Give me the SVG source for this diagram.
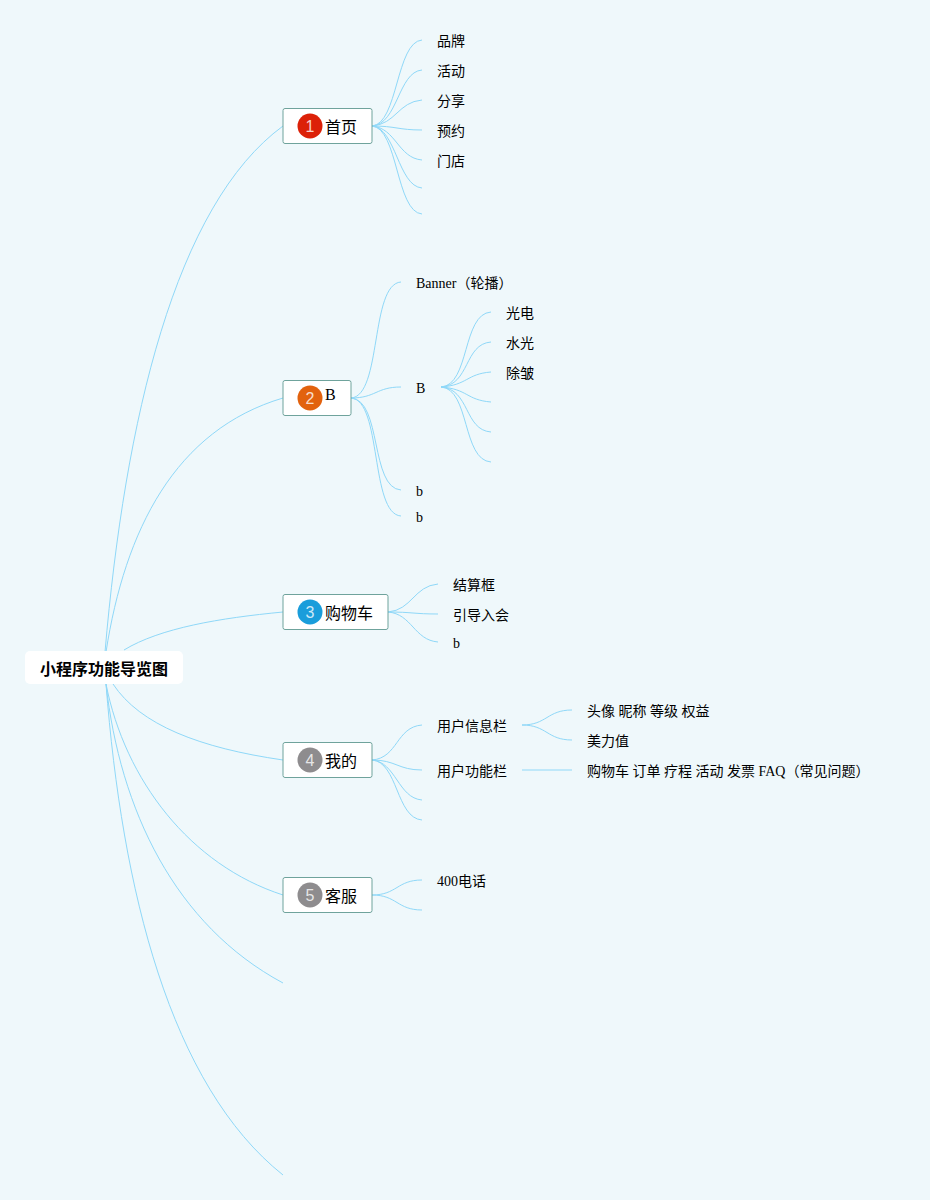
<svg xmlns="http://www.w3.org/2000/svg" width="930" height="1200" viewBox="0 0 930 1200">
<style>
.c{fill:none;stroke:#8fd8f8;stroke-width:1}
.t{font-family:"Liberation Serif","Noto Sans CJK SC",sans-serif;font-size:14px;fill:#000}
.m{font-family:"Liberation Serif","Noto Sans CJK SC",sans-serif;font-size:16px;fill:#000}
.r{font-family:"Liberation Sans","Noto Sans CJK SC",sans-serif;font-size:16px;font-weight:700;fill:#000}
.b{fill:#fff;stroke:#6fa39c;stroke-width:1}
.n{font-family:"Liberation Sans",sans-serif;font-size:16px;fill:#fff;fill-opacity:.8;text-anchor:middle}
</style>
<rect width="930" height="1200" fill="#eff8fb"/>
<g id="connectors">
<path class="c" d="M105 652C125 420 175 205 283 126"/>
<path class="c" d="M106 652C125 530 175 430 283 398"/>
<path class="c" d="M124 650C160 628 220 618 283 612"/>
<path class="c" d="M113 684C140 725 200 748 283 760"/>
<path class="c" d="M106 684C125 780 190 865 283 895"/>
<path class="c" d="M106 684C120 810 175 925 283 983"/>
<path class="c" d="M106 684C122 890 170 1085 283 1175"/>
<path class="c" d="M372 126C398 124 396 42 422 40"/>
<path class="c" d="M372 126C398 124 398 72 422 70"/>
<path class="c" d="M372 126C396 124 398 102 422 100"/>
<path class="c" d="M372 126C396 126 398 130 422 130"/>
<path class="c" d="M372 126C396 128 398 158 422 160"/>
<path class="c" d="M372 126C396 128 398 186 422 188"/>
<path class="c" d="M372 126C398 128 396 212 422 214"/>
<path class="c" d="M351 398C382 396 370 284 401 282"/>
<path class="c" d="M351 398C376 398 376 387 401 387"/>
<path class="c" d="M351 398C382 400 370 488 401 490"/>
<path class="c" d="M351 398C382 400 370 514 401 516"/>
<path class="c" d="M441 387C470 385 462 314 491 312"/>
<path class="c" d="M441 387C470 385 464 344 491 342"/>
<path class="c" d="M441 387C468 385 466 374 491 372"/>
<path class="c" d="M441 387C468 389 466 400 491 402"/>
<path class="c" d="M441 387C470 389 464 430 491 432"/>
<path class="c" d="M441 387C470 389 462 460 491 462"/>
<path class="c" d="M388 612C412 610 414 586 438 584"/>
<path class="c" d="M388 612C412 612 414 614 438 614"/>
<path class="c" d="M388 612C412 614 414 640 438 642"/>
<path class="c" d="M372 760C398 758 396 727 422 725"/>
<path class="c" d="M372 760C396 760 398 770 422 770"/>
<path class="c" d="M372 760C396 762 398 798 422 800"/>
<path class="c" d="M372 760C398 762 396 818 422 820"/>
<path class="c" d="M522 725C547 725 547 710 572 710"/>
<path class="c" d="M522 725C547 725 547 740 572 740"/>
<path class="c" d="M522 770H572"/>
<path class="c" d="M372 895C397 895 397 880 422 880"/>
<path class="c" d="M372 895C397 895 397 910 422 910"/>
</g>
<g id="root"><rect x="25" y="651" width="158" height="33" rx="5" fill="#fff"/><text class="r" x="40" y="675">小程序功能导览图</text></g>
<g id="n1"><rect class="b" x="283" y="108.500" width="89" height="35" rx="2"/><circle cx="310" cy="126" r="12.5" fill="#dc2108"/><text class="n" x="310" y="132">1</text><text class="m" x="325" y="133">首页</text></g>
<g id="n2"><rect class="b" x="283" y="380.500" width="68" height="35" rx="2"/><circle cx="310" cy="398" r="12.5" fill="#e2620e"/><text class="n" x="310" y="404">2</text><text class="m" x="325" y="400">B</text></g>
<g id="n3"><rect class="b" x="283" y="594.500" width="105" height="35" rx="2"/><circle cx="310" cy="612" r="12.5" fill="#1a9ddb"/><text class="n" x="310" y="618">3</text><text class="m" x="325" y="619">购物车</text></g>
<g id="n4"><rect class="b" x="283" y="742.500" width="89" height="35" rx="2"/><circle cx="310" cy="760" r="12.5" fill="#8e8c8e"/><text class="n" x="310" y="766">4</text><text class="m" x="325" y="767">我的</text></g>
<g id="n5"><rect class="b" x="283" y="877.500" width="89" height="35" rx="2"/><circle cx="310" cy="895" r="12.5" fill="#8e8c8e"/><text class="n" x="310" y="901">5</text><text class="m" x="325" y="902">客服</text></g>
<g id="leaves">
<text class="t" x="437" y="46">品牌</text>
<text class="t" x="437" y="76">活动</text>
<text class="t" x="437" y="106">分享</text>
<text class="t" x="437" y="136">预约</text>
<text class="t" x="437" y="166">门店</text>
<text class="t" x="416" y="288">Banner（轮播）</text>
<text class="t" x="416" y="393">B</text>
<text class="t" x="506" y="318">光电</text>
<text class="t" x="506" y="348">水光</text>
<text class="t" x="506" y="378">除皱</text>
<text class="t" x="416" y="496">b</text>
<text class="t" x="416" y="522">b</text>
<text class="t" x="453" y="590">结算框</text>
<text class="t" x="453" y="620">引导入会</text>
<text class="t" x="453" y="648">b</text>
<text class="t" x="437" y="731">用户信息栏</text>
<text class="t" x="437" y="776">用户功能栏</text>
<text class="t" x="587" y="716">头像 昵称 等级 权益</text>
<text class="t" x="587" y="746">美力值</text>
<text class="t" x="587" y="776">购物车 订单 疗程 活动 发票 FAQ（常见问题）</text>
<text class="t" x="437" y="886">400电话</text>
</g>
</svg>
